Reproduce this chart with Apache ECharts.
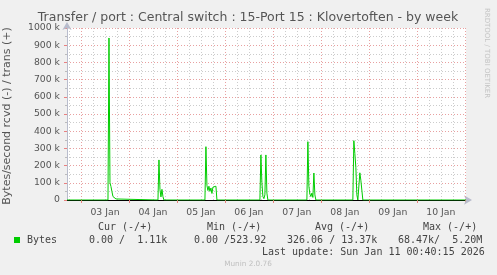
<!DOCTYPE html>
<html><head><meta charset="utf-8">
<script src="https://cdn.jsdelivr.net/npm/echarts@6/dist/echarts.min.js"></script>
<style>html,body{margin:0;padding:0;background:#f0f0f0}#c{width:497px;height:275px}</style>
</head><body><div id="c"></div>
<script>
// hours relative to 03 Jan 00:00
const hours = [-7, 13.5, 14, 14.5, 15, 15.5, 16, 16.5, 17, 17.5, 18,
  38.5, 39, 39.5, 40, 40.5, 41, 41.5,
  62, 62.5, 63, 63.5, 64, 64.5, 65, 65.5, 66, 66.5, 67, 67.5, 68,
  89.5, 90, 90.5, 91, 91.5, 92, 92.5, 93, 93.5,
  113, 113.5, 114, 114.5, 115, 115.5, 116, 116.5, 117, 117.5,
  136, 136.5, 137, 137.5, 138, 138.5, 139, 139.5, 140, 140.5, 141,
  192.6];
// trans, k bytes/second
const transK = [0, 0, 942, 100, 78, 48, 20, 15, 10, 6, 0,
  0, 233, 60, 18, 62, 20, 0,
  0, 310, 85, 55, 80, 50, 70, 38, 75, 70, 82, 80, 0,
  0, 262, 100, 20, 8, 30, 262, 40, 0,
  0, 339, 80, 35, 20, 40, 15, 157, 30, 0,
  0, 345, 270, 190, 30, 0, 5, 158, 115, 112, 0,
  0];
const dayLabels = ['03 Jan','04 Jan','05 Jan','06 Jan','07 Jan','08 Jan','09 Jan','10 Jan'];
const midnights = [0, 24, 48, 72, 96, 120, 144, 168, 192];
const noons = [12, 36, 60, 84, 108, 132, 156, 180];
const yTickLabels = ['0','100 k','200 k','300 k','400 k','500 k','600 k','700 k','800 k','900 k','1000 k'];
const legendHead = ['Cur (-/+)', 'Min (-/+)', 'Avg (-/+)', 'Max (-/+)'];
const legendVals = ['0.00 /  1.11k', '0.00 /523.92', '326.06 / 13.37k', '68.47k/  5.20M'];

const sixHours = [];
for (let h = -6; h <= 192; h += 6) if (h % 24 !== 0) sixHours.push(h);

const X0 = -7, X1 = 192.6;
const grey = '#cccccc', red = '#e8a0a0', axisCol = '#b8bccc';
const chart = echarts.init(document.getElementById('c'), null, {renderer: 'canvas'});
const sans = 'DejaVu Sans';
const graphics = [
  {type:'text', x:248, y:18, style:{text:'Transfer / port : Central switch : 15-Port 15 : Klovertoften - by week', font:'12.5px "DejaVu Sans"', fill:'#555', align:'center', verticalAlign:'middle'}},
  {type:'text', x:487, y:53, rotation:-Math.PI/2, style:{text:'RRDTOOL / TOBI OETIKER', font:'7px "DejaVu Sans"', fill:'#c4c4c4', align:'center', verticalAlign:'middle'}},
  {type:'rect', shape:{x:14, y:237, width:6, height:6}, style:{fill:'#00cc00'}},
  {type:'text', x:27, y:240, style:{text:'Bytes', font:'10px "DejaVu Sans Mono"', fill:'#444', verticalAlign:'middle'}},
  {type:'text', x:262, y:252, style:{text:'Last update: Sun Jan 11 00:40:15 2026', font:'10px "DejaVu Sans Mono"', fill:'#444', verticalAlign:'middle'}},
  {type:'text', x:248, y:264, style:{text:'Munin 2.0.76', font:'7.3px "DejaVu Sans"', fill:'#c0c0c0', align:'center', verticalAlign:'middle'}}
];
const headX = [98, 207, 315, 423];
const valX = [89, 194, 287, 398];
legendHead.forEach((t,i)=>graphics.push({type:'text', x:headX[i], y:227, style:{text:t, font:'10px "DejaVu Sans Mono"', fill:'#444', verticalAlign:'middle'}}));
legendVals.forEach((t,i)=>graphics.push({type:'text', x:valX[i], y:240, style:{text:t, font:'10px "DejaVu Sans Mono"', fill:'#444', verticalAlign:'middle'}}));

function vLines(vals, color) {
  return {
    type:'line', xAxisIndex:1, yAxisIndex:1, data:[], silent:true, z:1,
    markLine:{silent:true, symbol:['none','none'], z:1, animation:false,
      label:{show:false}, lineStyle:{color:color, type:[1,2], width:1},
      data: vals.map(v=>({xAxis:v}))}
  };
}

chart.setOption({
  animation: false,
  backgroundColor: '#f0f0f0',
  grid: {left:67, right:31, top:28, bottom:75, show:true, backgroundColor:'#ffffff', borderWidth:0,
         containLabel:false, outerBoundsMode:'none'},
  xAxis: [
    {type:'value', min:X0, max:X1, position:'bottom',
     axisLine:{show:true, onZero:false, lineStyle:{color:axisCol, width:1}, symbol:['none','arrow'], symbolSize:[7,8], symbolOffset:[0,6]},
     axisTick:{show:false}, axisLabel:{show:false}, splitLine:{show:false}},
    {type:'value', min:X0, max:X1, position:'bottom',
     axisLine:{show:true, onZero:false, lineStyle:{color:'#000', width:1}},
     axisTick:{show:true, customValues: midnights, length:3, lineStyle:{color:'#e98080'}},
     axisLabel:{show:true, customValues: noons, margin:8, color:'#555', fontFamily:sans, fontSize:9.3,
       formatter:(v)=>dayLabels[noons.indexOf(v)] || ''},
     splitLine:{show:false}}
  ],
  yAxis: [
    {type:'value', min:0, max:1000, interval:50, position:'left',
     axisLine:{show:true, onZero:false, lineStyle:{color:axisCol, width:1}, symbol:['none','arrow'], symbolSize:[7,8], symbolOffset:[0,6]},
     axisTick:{show:true, length:2, lineStyle:{color:'#bbb'}},
     axisLabel:{show:false},
     splitLine:{show:true, lineStyle:{color:grey, type:[1,2], width:1}},
     name:'Bytes/second rcvd (-) / trans (+)', nameLocation:'middle', nameRotate:90, nameGap:54,
     nameTextStyle:{color:'#555', fontFamily:sans, fontSize:11, padding:[0,4,0,0]}},
    {type:'value', min:0, max:1000, interval:100, position:'left',
     axisLine:{show:false, onZero:false},
     axisTick:{show:true, length:3, lineStyle:{color:'#e98080'}},
     axisLabel:{show:true, margin:7, color:'#555', fontFamily:sans, fontSize:9.3,
       formatter:(v)=>yTickLabels[Math.round(v/100)]},
     splitLine:{show:true, lineStyle:{color:red, type:[1,2], width:1}}}
  ],
  graphic: graphics,
  series: [
    vLines(sixHours, grey),
    vLines(midnights, red),
    {
      type:'line', xAxisIndex:1, yAxisIndex:1, z:3,
      data: hours.map((h,i)=>[h, transK[i]]),
      symbol:'none', lineStyle:{color:'#00cc00', width:1}, clip:true
    }
  ]
});
</script></body></html>
